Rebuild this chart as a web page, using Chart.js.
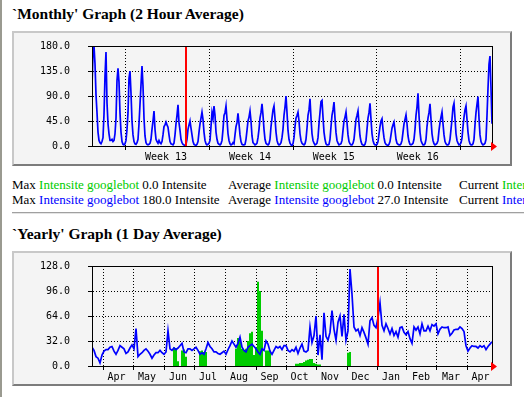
<!DOCTYPE html>
<html><head><meta charset="utf-8">
<script src="https://cdn.jsdelivr.net/npm/chart.js@4/dist/chart.umd.min.js"></script>
<style>
html,body{margin:0;padding:0;background:#fff;width:524px;height:397px;overflow:hidden;}
body{position:relative;font-family:"Liberation Serif","Times New Roman",serif;color:#000;}
.edge{position:absolute;left:0;top:0;width:2px;height:397px;background:#9a9a90;}
.title{position:absolute;left:12px;font-weight:bold;font-size:15.5px;line-height:17px;white-space:nowrap;}
.box{position:absolute;left:12px;width:496px;height:131px;background:#f4f4f4;border-style:solid;border-width:2px;border-color:#c8c8c8 #7c7c7c #7c7c7c #c8c8c8;}
.box canvas{position:absolute;left:0;top:0;}
.leg{position:absolute;font-size:13px;line-height:15px;white-space:nowrap;}
.g{color:#00cc00}.b{color:#0000ff}
.hr{position:absolute;left:12px;width:512px;top:212px;height:0;border-top:1px solid #a0a0a0;border-bottom:1px solid #e4e4e4;}
</style></head>
<body>
<div class="edge"></div>
<div class="title" style="top:5px">`Monthly' Graph (2 Hour Average)</div>
<div class="box" style="top:31px"><canvas id="cm" width="496" height="131"></canvas></div>
<div class="leg" style="top:177px;left:12px">Max <span class="g">Intensite googlebot</span> 0.0 Intensite</div>
<div class="leg" style="top:177px;left:228px">Average <span class="g">Intensite googlebot</span> 0.0 Intensite</div>
<div class="leg" style="top:177px;left:459px">Current <span class="g">Intensite googlebot</span> 0.0 Intensite</div>
<div class="leg" style="top:192px;left:12px">Max <span class="b">Intensite googlebot</span> 180.0 Intensite</div>
<div class="leg" style="top:192px;left:228px">Average <span class="b">Intensite googlebot</span> 27.0 Intensite</div>
<div class="leg" style="top:192px;left:459px">Current <span class="b">Intensite googlebot</span> 40.0 Intensite</div>
<div class="hr"></div>
<div class="title" style="top:225px">`Yearly' Graph (1 Day Average)</div>
<div class="box" style="top:251px"><canvas id="cy" width="496" height="131"></canvas></div>
<script>
// ---- Monthly graph data (one value per 2 hours) ----
const monthlyOut = [
 110,165,180,148,92,60,25,10,
 6,4,8,15,57,126,169,78,40,22,10,10,
 12,8,10,22,50,118,140,115,60,25,8,3,
 2,4,10,30,60,122,135,95,45,20,8,4,
 3,6,12,40,75,110,144,108,50,18,6,3,
 2,3,5,12,30,45,63,30,12,8,5,10,
 6,4,8,20,35,38,43,38,34,20,8,4,
 3,2,5,20,40,55,74,42,28,12,6,3,
 2,1,3,12,30,38,45,32,20,8,3,2,
 1,3,8,25,40,50,61,48,25,10,4,2,
 3,5,10,35,60,50,72,55,25,12,5,3,
 2,4,10,30,55,60,72,48,22,10,4,2,
 3,6,4,20,35,42,59,40,20,8,3,2,
 2,3,12,28,45,52,63,45,18,6,4,2,
 3,5,15,30,50,60,76,55,30,12,5,3,
 2,4,12,35,50,65,72,50,25,10,4,2,
 3,6,15,30,55,70,90,60,28,12,5,2,
 1,4,15,35,50,55,61,45,22,10,5,3,
 2,4,12,32,55,65,85,50,22,10,5,2,
 3,5,15,40,60,80,82,52,25,12,4,2,
 2,3,12,35,55,65,79,50,24,10,5,2,
 3,4,10,28,45,52,61,42,20,8,4,2,
 2,5,12,30,48,55,63,40,18,8,3,2,
 1,3,10,30,50,60,77,48,22,10,4,2,
 2,3,8,22,35,45,49,30,15,6,3,2,
 1,3,8,20,32,38,43,28,12,5,3,2,
 2,4,10,25,40,48,56,40,18,8,3,2,
 3,5,12,30,55,70,95,55,25,10,5,2,
 2,4,12,35,50,60,76,48,22,10,4,2,
 3,5,10,28,42,52,61,40,20,8,4,2,
 2,4,12,30,48,70,77,50,22,10,5,2,
 3,6,14,35,52,65,72,48,25,10,4,2,
 2,4,12,38,60,75,89,50,20,8,4,2,
 3,5,12,55,104,147,162,104,40
];
const monthlyMax = 180;
const monthlyYStep = 45;
const weekGrid = [33, 117, 201, 284, 368];
const weekLabelPos = [74, 158, 241.7, 325.7];
const weekLabels = ['Week 13', 'Week 14', 'Week 15', 'Week 16'];
const monthlyRedAt = 93;

// ---- Yearly graph data (one value per 2 days) ----
const yearlyOut = [
 24,20,12,10,4,14,19,21,21,24,25,19,15,20,26,24,22,16,18,23,27,
 22,48,12,15,17,20,22,19,15,10,14,17,17,20,17,15,18,45,22,20,
 23,21,23,26,29,18,17,22,22,20,22,24,20,15,17,15,22,30,25,22,
 18,18,16,15,17,19,15,21,26,32,28,24,29,37,24,20,18,24,26,28,
 25,22,18,15,22,20,32,28,19,15,20,25,23,25,21,26,26,20,18,21,
 19,24,16,23,28,19,18,20,50,30,39,64,14,40,8,68,38,33,43,71,
 47,33,56,64,38,66,33,45,124,92,50,45,47,39,49,43,36,28,58,62,
 52,49,62,81,52,45,54,48,41,48,39,44,37,49,50,43,40,44,35,29,
 50,46,50,41,54,45,45,51,45,53,51,54,41,47,50,49,49,50,39,42,
 46,47,47,50,48,44,26,19,23,26,25,25,23,26,24,26,21,25,28,31
];
const yearlyIn = [
 0,0,0,0,0,0,0,0,0,0,0,0,0,0,0,0,0,0,0,0,0,
 0,0,0,0,0,0,0,0,0,0,0,0,0,0,0,0,0,0,0,0,
 24,23,6,0,20,21,12,0,0,0,0,0,0,19,20,18,18,0,0,0,
 0,0,0,0,0,0,0,0,0,0,0,22,36,36,22,20,22,32,42,44,
 14,24,108,96,45,0,20,20,20,0,0,0,0,0,0,0,0,0,0,0,
 0,3,3,4,4,5,7,8,9,9,4,3,2,2,0,0,0,0,0,0,
 0,0,0,0,0,0,0,17,18,0,0,0,0,0,0,0,0,0,0,0,
 0,0,0,0,0,0,0,0,0,0,0,0,0,0,0,0,0,0,0,0,
 0,0,0,0,0,0,0,0,0,0,0,0,0,0,0,0,0,0,0,0,
 0,0,0,0,0,0,0,0,0,0,0,0,0,0,0,0,0,0,0,0
];
const yearlyDaysPerPoint = 2;
const yearlyMax = 128;
const yearlyYStep = 32;
const monthGrid = [11, 41, 72, 102, 133, 164, 194, 224, 255, 285, 314, 344, 375];
const monthLabelPos = [24.5, 55, 86, 116, 147, 177.5, 207.5, 238, 268.5, 299, 329, 359, 388.5];
const monthLabels = ['Apr','May','Jun','Jul','Aug','Sep','Oct','Nov','Dec','Jan','Feb','Mar','Apr'];
const yearlyRedAt = 285;

const TICK_FONT = {family: 'DejaVu Sans Mono', size: 10};

const mrtgPlugin = {
  id: 'mrtg',
  afterDraw(chart, args, opts) {
    const {ctx, chartArea: a, scales: {x}} = chart;
    ctx.save();
    ctx.setLineDash([]);
    // solid frame
    ctx.strokeStyle = '#000';
    ctx.lineWidth = 1;
    ctx.strokeRect(Math.round(a.left) + 0.5, Math.round(a.top) + 0.5,
                   Math.round(a.right - a.left), Math.round(a.bottom - a.top));
    // red marker line
    const px = Math.round(x.getPixelForValue(opts.redAt));
    ctx.fillStyle = '#ff0000';
    ctx.fillRect(px, Math.round(a.top) + 1, 2, Math.round(a.bottom - a.top) - 1);
    // red arrow at end of x axis
    ctx.beginPath();
    ctx.moveTo(a.right - 1, a.bottom - 4);
    ctx.lineTo(a.right + 5, a.bottom + 0.5);
    ctx.lineTo(a.right - 1, a.bottom + 5);
    ctx.closePath();
    ctx.fill();
    ctx.restore();
  }
};

function makeChart(id, datasets, xMax, yMax, yStep, gridVals, labelPos, labels, redAt) {
  const tickVals = gridVals.concat(labelPos).sort((a, b) => a - b);
  const isGrid = c => c.tick && gridVals.indexOf(c.tick.value) >= 0;
  return new Chart(document.getElementById(id), {
    type: 'line',
    data: {datasets},
    options: {
      responsive: false,
      animation: false,
      devicePixelRatio: 1,
      layout: {padding: {top: 13, right: 18, left: 0, bottom: 0}},
      plugins: {legend: {display: false}, tooltip: {enabled: false}, mrtg: {redAt}},
      elements: {point: {radius: 0}, line: {tension: 0}},
      scales: {
        x: {
          type: 'linear', min: 0, max: xMax,
          afterFit: s => { s.height = 18; s.paddingLeft = 0; s.paddingRight = 0; },
          afterBuildTicks: s => { s.ticks = tickVals.map(v => ({value: v})); },
          grid: {
            color: c => isGrid(c) ? '#000' : 'rgba(0,0,0,0)',
            tickColor: c => isGrid(c) ? '#000' : 'rgba(0,0,0,0)',
            tickLength: 4, lineWidth: 1
          },
          border: {display: true, color: '#000', width: 1, dash: [1, 2]},
          ticks: {
            autoSkip: false, maxRotation: 0, minRotation: 0, padding: 1,
            color: '#000', font: TICK_FONT,
            callback: v => { const i = labelPos.indexOf(v); return i >= 0 ? labels[i] : ''; }
          }
        },
        y: {
          type: 'linear', min: 0, max: yMax,
          afterFit: s => { s.width = 78; s.paddingTop = 0; s.paddingBottom = 0; },
          grid: {color: '#000', tickColor: '#000', tickLength: 4, lineWidth: 1},
          border: {display: true, color: '#000', width: 1, dash: [1, 2]},
          ticks: {stepSize: yStep, padding: 18, color: '#000', font: TICK_FONT,
                  callback: v => Number(v).toFixed(1)}
        }
      }
    },
    plugins: [mrtgPlugin]
  });
}

makeChart('cm', [
  {data: monthlyOut.map((v, i) => ({x: i, y: v})), borderColor: '#0000ff', borderWidth: 1.7, fill: false}
], monthlyOut.length - 1, monthlyMax, monthlyYStep, weekGrid, weekLabelPos, weekLabels, monthlyRedAt);

makeChart('cy', [
  {data: yearlyOut.map((v, i) => ({x: i * yearlyDaysPerPoint, y: v})), borderColor: '#0000ff', borderWidth: 1.7, fill: false},
  {data: yearlyIn.map((v, i) => ({x: i * yearlyDaysPerPoint, y: v})), borderWidth: 0, borderColor: 'rgba(0,0,0,0)',
   backgroundColor: '#00cc00', fill: 'origin', stepped: 'middle'}
], (yearlyOut.length - 1) * yearlyDaysPerPoint, yearlyMax, yearlyYStep, monthGrid, monthLabelPos, monthLabels, yearlyRedAt);
</script>
</body></html>
